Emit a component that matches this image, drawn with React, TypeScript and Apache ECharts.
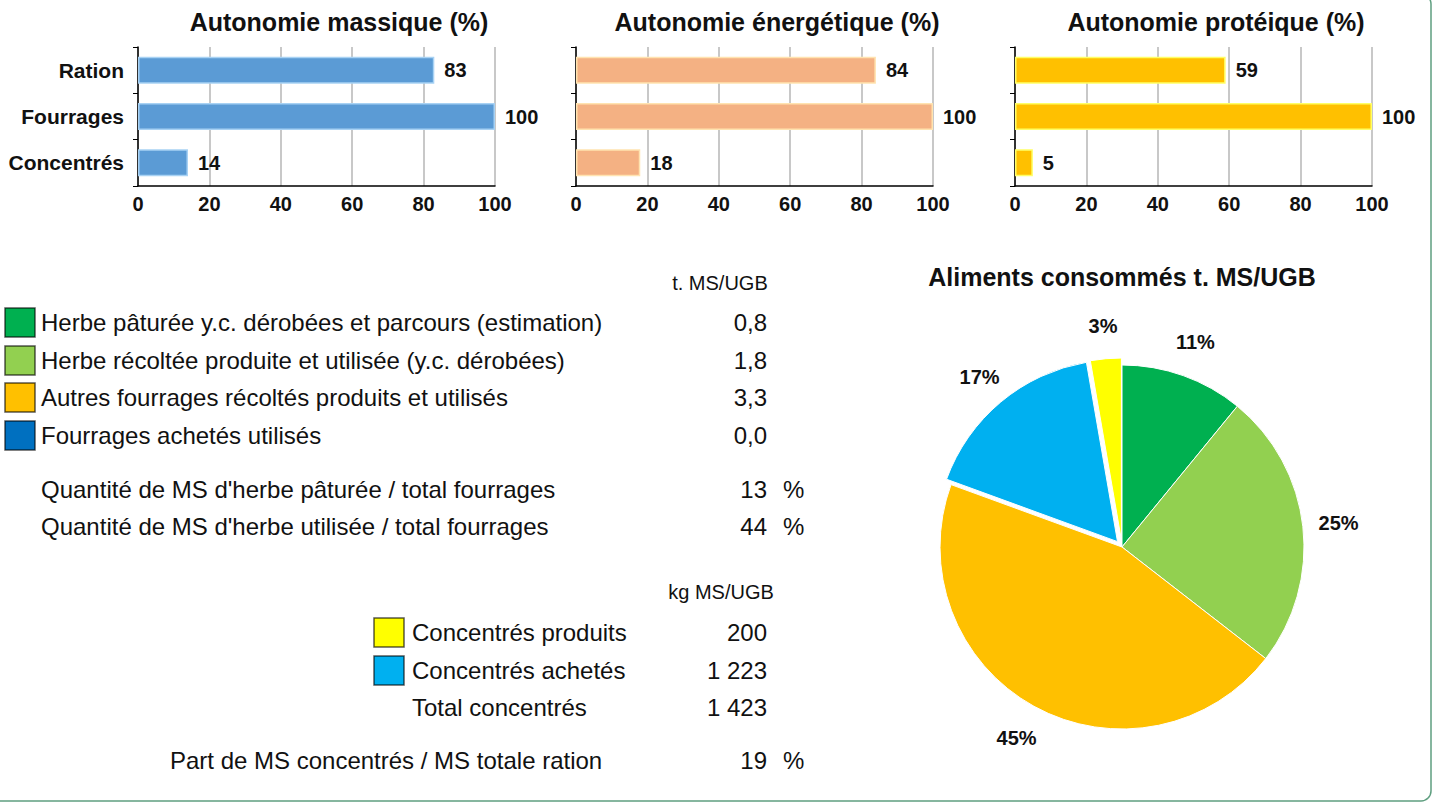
import React, { useEffect, useRef } from "react";
import * as echarts from "echarts";

const FONT = "'Liberation Sans', Arial, sans-serif";

// Bar charts
const barCategories = ["Ration", "Fourrages", "Concentrés"];
const barTitles = ["Autonomie massique (%)", "Autonomie énergétique (%)", "Autonomie protéique (%)"];
const massique = [83, 100, 14];
const energetique = [84, 100, 18];
const proteique = [59, 100, 5];
const barColors = ["#5b9bd5", "#f4b183", "#ffc000"];
const barBorders = ["#a8d2f4", "#ffe3b0", "#ffff66"];

// Fourrages table (t MS/UGB)
const fourrageLabels = [
  "Herbe pâturée y.c. dérobées et parcours (estimation)",
  "Herbe récoltée produite et utilisée (y.c. dérobées)",
  "Autres fourrages récoltés produits et utilisés",
  "Fourrages achetés utilisés",
];
const fourrageValues = [0.8, 1.8, 3.3, 0.0];
const fourrageColors = ["#00b050", "#92d050", "#ffc000", "#0070c0"];

const partLabels = [
  "Quantité de MS d'herbe pâturée / total fourrages",
  "Quantité de MS d'herbe utilisée / total fourrages",
];
const partValues = [13, 44];

// Concentrés (kg MS/UGB)
const concLabels = ["Concentrés produits", "Concentrés achetés"];
const concValues = [200, 1223];
const concColors = ["#ffff00", "#00b0f0"];
const concTotalLabel = "Total concentrés";
const partConcLabel = "Part de MS concentrés / MS totale ration";
const partConcValue = 19;

// Pie
const pieTitle = "Aliments consommés t. MS/UGB";

const fmtComma = (v: number) => v.toFixed(1).replace(".", ",");
const fmtThousands = (v: number) => String(v).replace(/\B(?=(\d{3})+(?!\d))/g, " ");

export default function App() {
  const ref = useRef<HTMLDivElement>(null);
  useEffect(() => {
    if (!ref.current) return;
    const chart = echarts.init(ref.current, undefined, { renderer: "svg" });

    const barSeriesData = [massique, energetique, proteique];
    const gridLefts = [138, 576, 1015];
    const gridW = 357;

    const grids = gridLefts.map((l) => ({ left: l, top: 47, width: gridW, height: 139 }));
    const xAxes = gridLefts.map((_, i) => ({
      type: "value",
      gridIndex: i,
      min: 0,
      max: 100,
      interval: 20,
      axisLine: { show: true, lineStyle: { color: "#000", width: 1.5 } },
      axisTick: { show: false },
      splitLine: { show: true, lineStyle: { color: "#c8c8c8", width: 2 } },
      axisLabel: { margin: 8, fontSize: 20, fontWeight: "bold", color: "#111", fontFamily: FONT },
    }));
    const yAxes = gridLefts.map((_, i) => ({
      type: "category",
      gridIndex: i,
      data: barCategories,
      inverse: true,
      axisLine: { show: true, lineStyle: { color: "#000", width: 1.5 } },
      axisTick: { show: true, length: 5, lineStyle: { color: "#000" } },
      axisLabel: {
        show: i === 0,
        margin: 14,
        fontSize: 21,
        fontWeight: "bold",
        color: "#111",
        fontFamily: FONT,
      },
    }));
    const barSeries = barSeriesData.map((d, i) => ({
      type: "bar",
      xAxisIndex: i,
      yAxisIndex: i,
      data: d,
      barWidth: 27,
      itemStyle: { color: barColors[i], borderColor: barBorders[i], borderWidth: 1.5 },
      label: {
        show: true,
        position: "right",
        distance: 10,
        fontSize: 20,
        fontWeight: "bold",
        color: "#111",
        fontFamily: FONT,
      },
    }));

    const pieNames = [
      fourrageLabels[0],
      fourrageLabels[1],
      fourrageLabels[2],
      concLabels[1],
      concLabels[0],
    ];
    const pieValues = [
      fourrageValues[0],
      fourrageValues[1],
      fourrageValues[2],
      concValues[1] / 1000,
      concValues[0] / 1000,
    ];
    const pieColors = [fourrageColors[0], fourrageColors[1], fourrageColors[2], concColors[1], concColors[0]];
    const pieSelected = [false, false, false, true, true];
    const pieTotal = pieValues.reduce((a, b) => a + b, 0);

    const pieSeries = {
      type: "pie",
      center: [1122, 547],
      radius: 182,
      startAngle: 90,
      clockwise: true,
      selectedMode: "multiple",
      selectedOffset: 7,
      silent: true,
      label: { show: false },
      labelLine: { show: false },
      itemStyle: { borderColor: "#fff", borderWidth: 1 },
      data: pieValues.map((v, i) => ({
        name: pieNames[i],
        value: v,
        selected: pieSelected[i],
        itemStyle: { color: pieColors[i] },
      })),
    };
    const pieLabelSeries = {
      type: "pie",
      center: [1122, 547],
      radius: [196, 234],
      startAngle: 90,
      clockwise: true,
      selectedMode: "multiple",
      selectedOffset: 4,
      silent: true,
      itemStyle: { color: "rgba(0,0,0,0)", borderWidth: 0 },
      label: {
        show: true,
        position: "inside",
        fontSize: 20,
        fontWeight: "bold",
        color: "#111",
        fontFamily: FONT,
        formatter: (p: any) => Math.round((p.value / pieTotal) * 100) + "%",
      },
      labelLine: { show: false },
      data: pieValues.map((v, i) => ({ name: pieNames[i], value: v, selected: pieSelected[i] })),
    };

    const txt = (
      text: string,
      x: number,
      y: number,
      opts: { size?: number; bold?: boolean; align?: string } = {}
    ) => ({
      type: "text",
      silent: true,
      style: {
        text,
        x,
        y,
        fontSize: opts.size ?? 24,
        fontWeight: opts.bold ? "bold" : "normal",
        fontFamily: FONT,
        fill: "#111",
        align: opts.align ?? "left",
        verticalAlign: "middle",
      },
    });
    const sq = (x: number, y: number, color: string) => ({
      type: "rect",
      silent: true,
      shape: { x, y, width: 30, height: 29 },
      style: { fill: color, stroke: "rgba(0,0,0,0.65)", lineWidth: 1.5 },
    });

    const graphics: any[] = [];
    // border
    graphics.push({
      type: "rect",
      silent: true,
      shape: { x: -20, y: -6, width: 1451, height: 807, r: 10 },
      style: { fill: "none", stroke: "#5f9f80", lineWidth: 1.5 },
    });
    // bar titles
    const titleCenters = [339, 777, 1216];
    barTitles.forEach((t, i) => graphics.push(txt(t, titleCenters[i], 22, { size: 25, bold: true, align: "center" })));
    // pie title
    graphics.push(txt(pieTitle, 1122, 277, { size: 25, bold: true, align: "center" }));

    // fourrages table
    graphics.push(txt("t. MS/UGB", 720, 283, { size: 20, align: "center" }));
    const rowY = [322, 360, 397, 435];
    fourrageLabels.forEach((l, i) => {
      graphics.push(sq(5, rowY[i] - 14, fourrageColors[i]));
      graphics.push(txt(l, 41, rowY[i]));
      graphics.push(txt(fmtComma(fourrageValues[i]), 767, rowY[i], { align: "right" }));
    });
    const partY = [489, 526];
    partLabels.forEach((l, i) => {
      graphics.push(txt(l, 41, partY[i]));
      graphics.push(txt(String(partValues[i]), 767, partY[i], { align: "right" }));
      graphics.push(txt("%", 783, partY[i]));
    });

    // concentrés table
    graphics.push(txt("kg MS/UGB", 721, 592, { size: 20, align: "center" }));
    const concY = [632, 670];
    concLabels.forEach((l, i) => {
      graphics.push(sq(374, concY[i] - 14, concColors[i]));
      graphics.push(txt(l, 412, concY[i]));
      graphics.push(txt(fmtThousands(concValues[i]), 767, concY[i], { align: "right" }));
    });
    const concTotal = concValues.reduce((a, b) => a + b, 0);
    graphics.push(txt(concTotalLabel, 412, 707));
    graphics.push(txt(fmtThousands(concTotal), 767, 707, { align: "right" }));
    graphics.push(txt(partConcLabel, 170, 760));
    graphics.push(txt(String(partConcValue), 767, 760, { align: "right" }));
    graphics.push(txt("%", 783, 760));

    chart.setOption({
      animation: false,
      backgroundColor: "#fff",
      grid: grids,
      xAxis: xAxes,
      yAxis: yAxes,
      series: [...barSeries, pieSeries, pieLabelSeries],
      graphic: graphics,
    } as any);

    return () => chart.dispose();
  }, []);

  return (
    <div
      ref={ref}
      style={{ position: "fixed", left: 0, top: 0, width: 1435, height: 802 }}
    />
  );
}
